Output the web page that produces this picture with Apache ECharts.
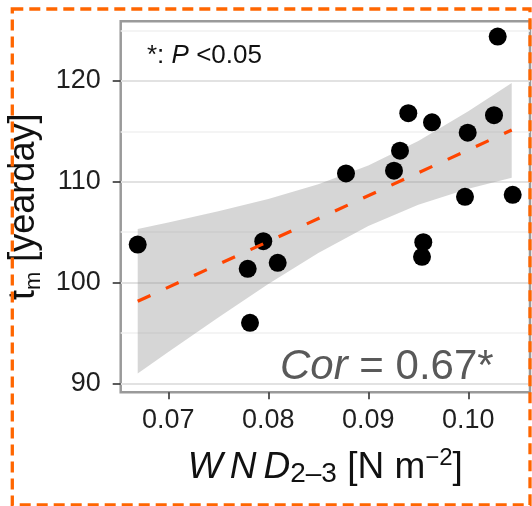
<!DOCTYPE html>
<html><head><meta charset="utf-8">
<script src="https://cdn.jsdelivr.net/npm/echarts@6/dist/echarts.min.js"></script>
<style>html,body{margin:0;padding:0;background:#fff;}#c{width:532px;height:506px;}</style>
</head><body><div id="c"></div>
<script>
// ---- data ----
const wnd = [0.06694, 0.07794, 0.07817, 0.07950, 0.08094, 0.08777, 0.09257, 0.09317, 0.09400,
             0.09537, 0.09550, 0.09637, 0.09967, 0.09994, 0.10257, 0.10294, 0.10444];
const tm  = [103.77, 101.36, 96.00, 104.10, 101.96, 110.83, 111.10, 113.08, 116.80,
             102.55, 104.00, 115.90, 108.50, 114.87, 116.60, 124.40, 108.70];
const fitX = [0.06694, 0.10434];
const fitY = [98.14, 115.13];
const bandX  = [0.06694, 0.070, 0.075, 0.080, 0.085, 0.090, 0.095, 0.100, 0.10434];
const bandLo = [90.97, 93.10, 96.53, 99.85, 102.94, 105.61, 107.71, 109.31, 110.40];
const bandHi = [105.31, 105.96, 107.07, 108.29, 109.74, 111.61, 114.05, 116.99, 119.80];
const xTicks = [0.07, 0.08, 0.09, 0.10];
const yTicks = [90, 100, 110, 120];
const yMinorGrid = [95, 105, 115, 125];
const xRange = [0.06524, 0.10617];
const yRange = [89.11, 125.92];

const FF = "'Liberation Sans', Arial, Helvetica, sans-serif";
const chart = echarts.init(document.getElementById('c'), null, {renderer: 'canvas'});

const option = {
  animation: false,
  backgroundColor: '#ffffff',
  grid: {left: 120.7, top: 21.3, right: 2, bottom: 113.7, show: true, containLabel: false,
         outerBoundsMode: 'none',
         borderColor: '#9a9a9a', borderWidth: 2.5, backgroundColor: '#ffffff'},
  xAxis: {
    type: 'value', min: xRange[0], max: xRange[1],
    axisLine: {show: false},
    axisTick: {show: true, length: 7, customValues: xTicks, lineStyle: {color: '#333', width: 1.6}},
    axisLabel: {customValues: xTicks, formatter: v => v.toFixed(2), fontSize: 27, color: '#1f1f1f',
                margin: 15, fontFamily: FF},
    splitLine: {show: false},
    name: '{it|W}{itg|N}{it|D}{sub|2–3}{n| [N m}{sup|−2}{n|]}',
    nameLocation: 'middle', nameGap: 54,
    nameTextStyle: {
      fontFamily: FF, fontSize: 37, color: '#111', lineHeight: 42,
      rich: {
        it: {fontStyle: 'italic', fontSize: 37, fontFamily: FF, color: '#111', lineHeight: 42},
        itg: {fontStyle: 'italic', fontSize: 37, fontFamily: FF, color: '#111', lineHeight: 42, padding: [0, 7, 0, 7]},
        n: {fontSize: 37, fontFamily: FF, color: '#111', lineHeight: 42},
        sub: {fontSize: 28, fontFamily: FF, color: '#111', lineHeight: 12, verticalAlign: 'bottom'},
        sup: {fontSize: 24, fontFamily: FF, color: '#111', lineHeight: 8, verticalAlign: 'top'}
      }
    }
  },
  yAxis: [{
    type: 'value', min: yRange[0], max: yRange[1],
    axisLine: {show: false},
    axisTick: {show: true, length: 8, customValues: yTicks, lineStyle: {color: '#333', width: 1.6}},
    axisLabel: {customValues: yTicks, fontSize: 27, color: '#1f1f1f', margin: 20, fontFamily: FF,
                padding: [9, 0, 0, 0]},
    splitLine: {show: true, lineStyle: {color: '#e2e2e2', width: 2}},
    name: '{t|t}{sub|m}{n| [yearday]}',
    nameLocation: 'middle', nameRotate: 90, nameGap: 66,
    nameTextStyle: {
      fontFamily: FF, fontSize: 36, color: '#111', lineHeight: 42,
      rich: {
        t: {fontSize: 36, fontFamily: FF, color: '#111', lineHeight: 42},
        n: {fontSize: 36, fontFamily: FF, color: '#111', lineHeight: 42},
        sub: {fontSize: 22, fontFamily: FF, color: '#111', lineHeight: 24, verticalAlign: 'bottom'}
      }
    }
  }, {
    type: 'value', min: yRange[0], max: yRange[1], position: 'left',
    axisLine: {show: false},
    axisTick: {show: false, customValues: yMinorGrid},
    axisLabel: {show: false, customValues: yMinorGrid},
    splitLine: {show: true, lineStyle: {color: '#f0f0f0', width: 1.6}}
  }],
  series: [
    {
      type: 'custom', xAxisIndex: 0, yAxisIndex: 0, silent: true, clip: true,
      data: bandX.map((x, i) => [x, bandLo[i], bandHi[i]]),
      encode: {x: 0, y: [1, 2]},
      renderItem: function (params, api) {
        if (params.dataIndex !== 0) return null;
        const pts = [];
        for (let i = 0; i < bandX.length; i++) pts.push(api.coord([bandX[i], bandHi[i]]));
        for (let i = bandX.length - 1; i >= 0; i--) pts.push(api.coord([bandX[i], bandLo[i]]));
        return {type: 'polygon', shape: {points: pts},
                style: {fill: 'rgba(153,153,153,0.4)', stroke: null}};
      }
    },
    {
      type: 'line', xAxisIndex: 0, yAxisIndex: 0, silent: true,
      data: fitX.map((x, i) => [x, fitY[i]]),
      showSymbol: false, symbol: 'none',
      lineStyle: {color: '#ff4500', width: 3.2, type: [14, 17]}
    },
    {
      type: 'scatter', xAxisIndex: 0, yAxisIndex: 0, silent: true,
      data: wnd.map((x, i) => [x, tm[i]]),
      symbol: 'circle', symbolSize: 18,
      itemStyle: {color: '#000000', opacity: 1}
    }
  ],
  graphic: [
    {type: 'text', x: 147, y: 56, z: 50, silent: true,
     style: {text: '{a|*: }{p|P}{a| <0.05}', verticalAlign: 'middle', align: 'left',
             rich: {a: {fontSize: 26, fontFamily: FF, fill: '#111', color: '#111'},
                    p: {fontSize: 26, fontFamily: FF, fontStyle: 'italic', fill: '#111', color: '#111'}}}},
    {type: 'text', x: 280, y: 367, z: 50, silent: true,
     style: {text: '{i|Cor}{n| = 0.67*}', verticalAlign: 'middle', align: 'left',
             rich: {i: {fontSize: 42, fontFamily: FF, fontStyle: 'italic', fill: '#595959', color: '#595959'},
                    n: {fontSize: 42, fontFamily: FF, fill: '#595959', color: '#595959'}}}},
    {type: 'rect', z: 100, silent: true,
     shape: {x: 12.3, y: 9, width: 517.7, height: 496},
     style: {fill: 'none', stroke: '#ff6600', lineWidth: 3.3, lineDash: [11, 6]}}
  ]
};
chart.setOption(option);
</script>
</body></html>
